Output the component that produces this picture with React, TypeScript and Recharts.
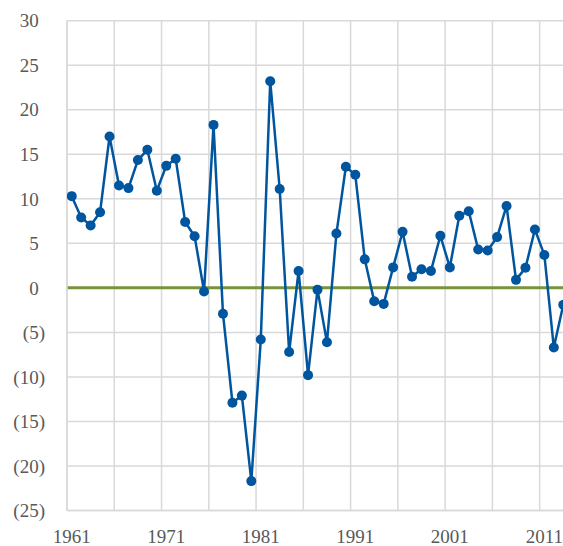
import React from 'react';
import { LineChart, Line, XAxis, YAxis, CartesianGrid, ReferenceLine } from 'recharts';

const years = [
  1961, 1962, 1963, 1964, 1965, 1966, 1967, 1968, 1969, 1970,
  1971, 1972, 1973, 1974, 1975, 1976, 1977, 1978, 1979, 1980,
  1981, 1982, 1983, 1984, 1985, 1986, 1987, 1988, 1989, 1990,
  1991, 1992, 1993, 1994, 1995, 1996, 1997, 1998, 1999, 2000,
  2001, 2002, 2003, 2004, 2005, 2006, 2007, 2008, 2009, 2010,
  2011, 2012, 2013,
];
const values = [
  10.3, 7.9, 7.0, 8.5, 17.0, 11.5, 11.2, 14.35, 15.5, 10.9,
  13.7, 14.5, 7.4, 5.8, -0.4, 18.3, -2.9, -12.9, -12.1, -21.7,
  -5.8, 23.2, 11.1, -7.2, 1.9, -9.8, -0.2, -6.1, 6.1, 13.6,
  12.7, 3.2, -1.5, -1.8, 2.3, 6.3, 1.25, 2.1, 1.9, 5.85,
  2.3, 8.1, 8.6, 4.3, 4.2, 5.7, 9.2, 0.9, 2.25, 6.55,
  3.7, -6.7, -1.9,
];
const xTicks = [1961, 1971, 1981, 1991, 2001, 2011];
const yTicks = [-25, -20, -15, -10, -5, 0, 5, 10, 15, 20, 25, 30];
const gridYears = [1960.5, 1965.5, 1970.5, 1975.5, 1980.5, 1985.5, 1990.5, 1995.5, 2000.5, 2005.5, 2010.5];

const data = years.map((year, i) => ({ year, value: values[i] }));

const FONT = 'Liberation Serif, Times New Roman, serif';
const TEXT = '#595959';
const GRID = '#D9D9D9';
const BLUE = '#00559F';
const GREEN = '#77933C';

const YTick = (props: any) => {
  const { x, y, payload } = props;
  const v = payload.value as number;
  return (
    <text x={x} y={y} dy="0.355em" textAnchor="end" fill={TEXT} fontSize={19} fontFamily={FONT}>
      {v < 0 ? `(${-v})` : (
        <>
          {String(v)}
          <tspan fill="transparent">)</tspan>
        </>
      )}
    </text>
  );
};

export default function App() {
  return (
    <div style={{ position: 'fixed', left: 0, top: 0, width: 563, height: 546, overflow: 'hidden', background: '#fff' }}>
      <LineChart width={580} height={546} data={data} margin={{ top: 20.7, right: 12, left: 0, bottom: 0 }}>
        <CartesianGrid stroke={GRID} strokeWidth={1.5} verticalValues={gridYears} horizontalValues={yTicks} />
        <XAxis
          type="number"
          dataKey="year"
          domain={[1960.5, 2013.5]}
          ticks={xTicks}
          allowDataOverflow
          tickLine={false}
          axisLine={{ stroke: GRID, strokeWidth: 1.5 }}
          tick={{ fill: TEXT, fontSize: 19, fontFamily: FONT }}
          tickMargin={13}
          height={35.5}
          interval={0}
        />
        <YAxis
          type="number"
          domain={[-25, 30]}
          ticks={yTicks}
          width={67}
          tickLine={false}
          axisLine={{ stroke: GRID, strokeWidth: 1.5 }}
          tick={<YTick />}
          tickMargin={16}
          interval={0}
        />
        <ReferenceLine y={0} stroke={GREEN} strokeWidth={3} />
        <Line
          type="linear"
          dataKey="value"
          stroke={BLUE}
          strokeWidth={2.5}
          dot={{ r: 5, fill: BLUE, stroke: BLUE, strokeWidth: 0 }}
          isAnimationActive={false}
        />
      </LineChart>
    </div>
  );
}
